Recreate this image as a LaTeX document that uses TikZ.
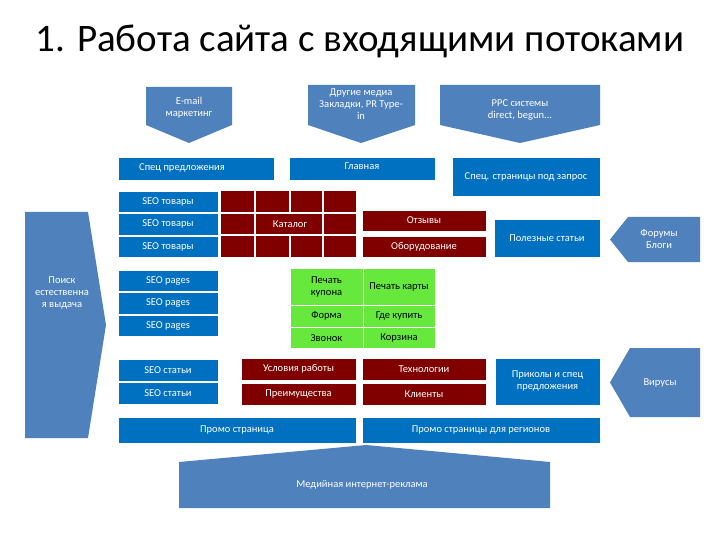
\documentclass[tikz,border=0pt]{standalone}
\usepackage{fontspec}
\setmainfont{Carlito}
\begin{document}
\begin{tikzpicture}[x=1pt,y=-1pt,
  bl/.style={fill=blue1,draw=white,line width=0.8pt},
  rd/.style={fill=red1,draw=white,line width=1pt},
  gr/.style={fill=green1,draw=white,line width=1pt},
  lbl/.style={text=white,font=\fontsize{10.5}{12}\selectfont,align=center},
  lblk/.style={text=black,font=\fontsize{10.5}{12}\selectfont,align=center}]
\definecolor{blue1}{HTML}{0070C0}
\definecolor{blue2}{HTML}{4F81BD}
\definecolor{red1}{HTML}{800000}
\definecolor{green1}{HTML}{66E83C}
\useasboundingbox (0,0) rectangle (720,540);
\node[font=\fontsize{39}{42}\selectfont] (title) at (360,41) {1. Работа сайта с входящими потоками};
% top arrows
\fill[blue2] (146,87) -- (232,87) -- (232,125) -- (189,143) -- (146,125) -- cycle;
\node[lbl] (email) at (189,108) {E-mail\\маркетинг};
\fill[blue2] (308,85) -- (415,85) -- (415,125) -- (361,143) -- (308,125) -- cycle;
\node[lbl] (media) at (361,104) {Другие медиа\\Закладки, PR Type-\\in};
\fill[blue2] (440,85) -- (600,85) -- (600,125) -- (520,143) -- (440,125) -- cycle;
\node[lbl] (ppc) at (520,110) {PPC системы\\direct, begun...};
% row 1
\draw[bl] (118,157) rectangle (274,180); \node[lbl] (spec) at (182,168) {Спец предложения};
\draw[bl] (289,157) rectangle (435,180); \node[lbl] (main) at (362,166) {Главная};
\draw[bl] (452,157) rectangle (600,196); \node[lbl] (specp) at (526,177) {Спец. страницы под запрос};
% SEO tovary
\foreach \a/\b in {191/212,213/235,236/257}{\draw[bl] (118,\a) rectangle (218,\b);}
\node[lbl] (s1) at (168,201.5) {SEO товары};
\node[lbl] (s2) at (168,224) {SEO товары};
\node[lbl] (s3) at (168,246.5) {SEO товары};
% catalog grid
\fill[red1] (221,191) rectangle (356,257);
\draw[white,line width=1.2pt] (221,213) -- (356,213) (221,235) -- (356,235)
  (255,191) -- (255,257) (323,191) -- (323,257) (290,191) -- (290,213) (290,235) -- (290,257);
\node[lbl] (cat) at (290,224) {Каталог};
\draw[rd] (362,211) rectangle (486,232); \node[lbl] (otz) at (424,220) {Отзывы};
\draw[rd] (362,236) rectangle (486,257); \node[lbl] (obo) at (424,246.5) {Оборудование};
\draw[bl] (494,219) rectangle (600,257); \node[lbl] (pol) at (547,238) {Полезные статьи};
\fill[blue2] (628,217) -- (700,217) -- (700,262) -- (628,262) -- (610,239.5) -- cycle;
\node[lbl] (forum) at (659,239.5) {Форумы\\Блоги};
% Poisk
\fill[blue2] (25,212) -- (88,212) -- (106,325) -- (88,438) -- (25,438) -- cycle;
\node[lbl] (poisk) at (62,293) {Поиск\\естественна\\я выдача};
% SEO pages
\foreach \a/\b in {270/291,292/314,315/336}{\draw[bl] (118,\a) rectangle (218,\b);}
\node[lbl] (p1) at (168,280.5) {SEO pages};
\node[lbl] (p2) at (168,303) {SEO pages};
\node[lbl] (p3) at (168,325.5) {SEO pages};
% green grid
\draw[gr] (290,268) rectangle (363,305); \node[lblk] (g1) at (326.5,286.5) {Печать\\купона};
\draw[gr] (363,268) rectangle (435,305); \node[lblk] (g2) at (399,286.5) {Печать карты};
\draw[gr] (290,305) rectangle (363,327); \node[lblk] (g3) at (326.5,316) {Форма};
\draw[gr] (363,305) rectangle (435,327); \node[lblk] (g4) at (399,316) {Где купить};
\draw[gr] (290,327) rectangle (363,348); \node[lblk] (g5) at (326.5,338) {Звонок};
\draw[gr] (363,327) rectangle (435,348); \node[lblk] (g6) at (399,338) {Корзина};
% SEO statyi
\draw[bl] (118,359) rectangle (218,381); \node[lbl] (a1) at (168,370) {SEO статьи};
\draw[bl] (118,382) rectangle (218,404); \node[lbl] (a2) at (168,393) {SEO статьи};
\draw[rd] (241,358) rectangle (356,380); \node[lbl] (usl) at (298.5,369) {Условия работы};
\draw[rd] (241,383) rectangle (356,405); \node[lbl] (pre) at (298.5,394) {Преимущества};
\draw[rd] (362,358) rectangle (486,380); \node[lbl] (teh) at (424,369) {Технологии};
\draw[rd] (362,383) rectangle (486,405); \node[lbl] (kli) at (424,394) {Клиенты};
\draw[bl] (495,358) rectangle (600,405); \node[lbl] (prik) at (547.5,381) {Приколы и спец\\предложения};
\fill[blue2] (630,348) -- (700,348) -- (700,417) -- (630,417) -- (610,382.5) -- cycle;
\node[lbl] (vir) at (660,382.5) {Вирусы};
% promo
\draw[bl] (118,417) rectangle (356,443); \node[lbl] (pr1) at (237,430) {Промо страница};
\draw[bl] (362,417) rectangle (600,443); \node[lbl] (pr2) at (481,430) {Промо страницы для регионов};
% media bottom
\fill[blue2] (179,508) -- (179,462) -- (366,445) -- (550,462) -- (550,508) -- cycle;
\node[lbl] (med) at (362,485) {Медийная интернет-реклама};
\end{tikzpicture}
\end{document}
